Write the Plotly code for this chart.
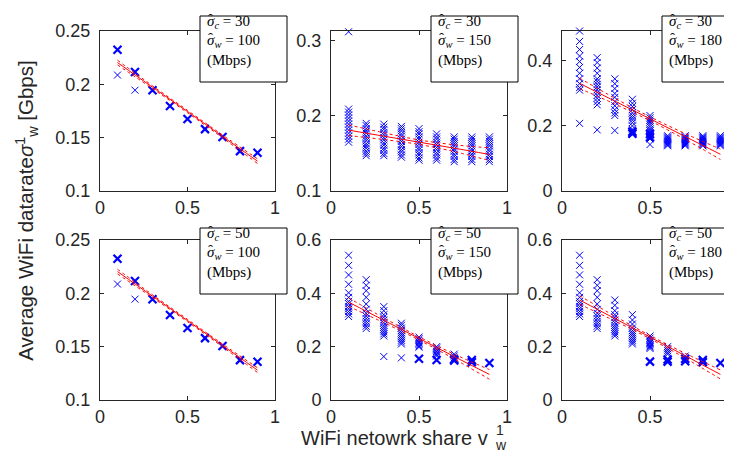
import plotly.graph_objects as go

W, H = 732, 451

# ---------------- data ----------------
X_SHARE = [0.1, 0.2, 0.3, 0.4, 0.5, 0.6, 0.7, 0.8, 0.9]
FIT_X = [0.1, 0.3, 0.5, 0.7, 0.9]

SIGMA_C = [30, 30, 30, 50, 50, 50]
SIGMA_W = [100, 150, 180, 100, 150, 180]

# panel 1 (sigma_c=30, sigma_w=100)
P1_THIN = [[0.2087], [0.1945], [], [], [], [], [], [], []]
P1_BOLD = [[0.2325], [0.2116], [0.1945], [0.1796], [0.1675], [0.158], [0.1507], [0.1374], [0.1358]]
P1_FIT = [0.2204, 0.1973, 0.1745, 0.1512, 0.1280]
P1_UP = [0.2226, 0.1986, 0.1756, 0.1525, 0.1302]
P1_LO = [0.2182, 0.1960, 0.1734, 0.1499, 0.1258]

# panel 2 (sigma_c=30, sigma_w=150)
P2_THIN = [
    [0.165, 0.169, 0.173, 0.177, 0.181, 0.185, 0.189, 0.193, 0.197, 0.201, 0.205, 0.209, 0.312],
    [0.147, 0.150, 0.153, 0.157, 0.160, 0.163, 0.167, 0.170, 0.173, 0.177, 0.180, 0.183, 0.187, 0.190],
    [0.147, 0.150, 0.154, 0.157, 0.161, 0.164, 0.168, 0.171, 0.175, 0.178, 0.182, 0.185, 0.189],
    [0.145, 0.148, 0.152, 0.155, 0.159, 0.162, 0.166, 0.169, 0.173, 0.176, 0.180, 0.183, 0.186],
    [0.141, 0.144, 0.148, 0.151, 0.155, 0.158, 0.162, 0.165, 0.169, 0.172, 0.176, 0.179, 0.183],
    [0.141, 0.144, 0.148, 0.151, 0.155, 0.158, 0.162, 0.165, 0.169, 0.172, 0.176],
    [0.139, 0.142, 0.146, 0.149, 0.153, 0.156, 0.160, 0.163, 0.166, 0.169, 0.172],
    [0.139, 0.142, 0.146, 0.149, 0.153, 0.156, 0.160, 0.163, 0.166, 0.169, 0.172],
    [0.139, 0.142, 0.146, 0.149, 0.153, 0.156, 0.160, 0.163, 0.166, 0.169, 0.172],
]
P2_BOLD = [[], [], [], [], [], [], [], [], []]
P2_FIT = [0.181, 0.173, 0.165, 0.157, 0.1487]
P2_UP = [0.1880, 0.1775, 0.1680, 0.1615, 0.1575]
P2_LO = [0.1738, 0.1685, 0.1620, 0.1525, 0.1405]

# panel 3 (sigma_c=30, sigma_w=180)
P3_THIN = [
    [0.208, 0.310, 0.318, 0.330, 0.345, 0.362, 0.380, 0.398, 0.415, 0.435, 0.460, 0.492],
    [0.188, 0.265, 0.275, 0.285, 0.294, 0.303, 0.311, 0.320, 0.328, 0.337, 0.345, 0.362, 0.378, 0.395, 0.410],
    [0.186, 0.232, 0.240, 0.250, 0.262, 0.275, 0.288, 0.300, 0.315, 0.330, 0.345],
    [0.174, 0.178, 0.182, 0.185, 0.190, 0.200, 0.210, 0.218, 0.225, 0.232, 0.240, 0.250, 0.260, 0.270, 0.282],
    [0.143, 0.160, 0.165, 0.170, 0.175, 0.180, 0.185, 0.190, 0.198, 0.205, 0.212, 0.218, 0.225, 0.232],
    [0.139, 0.142, 0.145, 0.148, 0.151, 0.154, 0.157, 0.160, 0.163, 0.166, 0.170],
    [0.139, 0.142, 0.145, 0.148, 0.151, 0.154, 0.157, 0.160, 0.163, 0.166, 0.170],
    [0.139, 0.142, 0.145, 0.148, 0.151, 0.154, 0.157, 0.160, 0.163, 0.166, 0.170],
    [0.139, 0.142, 0.145, 0.148, 0.151, 0.154, 0.157, 0.160, 0.163, 0.166, 0.170],
]
P3_BOLD = [[], [], [], [0.176, 0.182], [0.165, 0.175], [], [], [], []]
P3_FIT = [0.331, 0.2765, 0.222, 0.1675, 0.113]
P3_UP = [0.347, 0.2855, 0.228, 0.1765, 0.129]
P3_LO = [0.315, 0.2675, 0.216, 0.1585, 0.097]

# panel 4 (sigma_c=50, sigma_w=100)
P4_THIN = [[0.2087], [0.1945], [], [], [], [], [], [], []]
P4_BOLD = [[0.2325], [0.2116], [0.1945], [0.1796], [0.1675], [0.158], [0.1507], [0.1374], [0.1358]]
P4_FIT = [0.2204, 0.1973, 0.1745, 0.1512, 0.1280]
P4_UP = [0.2226, 0.1986, 0.1756, 0.1525, 0.1302]
P4_LO = [0.2182, 0.1960, 0.1734, 0.1499, 0.1258]

# panel 5 (sigma_c=50, sigma_w=150)
P5_THIN = [
    [0.313, 0.323, 0.332, 0.342, 0.351, 0.361, 0.370, 0.385, 0.402, 0.434, 0.469, 0.505, 0.543],
    [0.268, 0.277, 0.286, 0.295, 0.305, 0.315, 0.325, 0.340, 0.360, 0.385, 0.410, 0.430, 0.451],
    [0.163, 0.240, 0.248, 0.256, 0.264, 0.272, 0.280, 0.290, 0.300, 0.310, 0.320, 0.335, 0.350],
    [0.158, 0.210, 0.217, 0.224, 0.231, 0.238, 0.245, 0.252, 0.260, 0.270, 0.280, 0.288],
    [0.198, 0.203, 0.208, 0.213, 0.218, 0.224, 0.230, 0.236],
    [0.165, 0.170, 0.176, 0.182, 0.188, 0.195, 0.200],
    [0.158, 0.165, 0.172],
    [],
    [],
]
P5_BOLD = [[], [], [], [], [0.155], [0.150], [0.148, 0.152], [0.142, 0.150], [0.139]]
P5_FIT = [0.367, 0.299, 0.231, 0.163, 0.096]
P5_UP = [0.383, 0.308, 0.237, 0.172, 0.114]
P5_LO = [0.351, 0.290, 0.225, 0.154, 0.078]

# panel 6 (sigma_c=50, sigma_w=180)
P6_THIN = [
    [0.313, 0.323, 0.332, 0.342, 0.351, 0.361, 0.370, 0.385, 0.402, 0.434, 0.469, 0.505, 0.543],
    [0.268, 0.277, 0.286, 0.295, 0.305, 0.315, 0.325, 0.340, 0.360, 0.385, 0.410, 0.430, 0.451],
    [0.240, 0.248, 0.256, 0.264, 0.272, 0.280, 0.290, 0.300, 0.310, 0.320, 0.335, 0.355, 0.375],
    [0.210, 0.217, 0.224, 0.231, 0.238, 0.245, 0.252, 0.260, 0.270, 0.285, 0.300, 0.320],
    [0.193, 0.198, 0.203, 0.208, 0.213, 0.218, 0.224, 0.232, 0.240],
    [0.172, 0.178, 0.185, 0.192, 0.200],
    [0.165],
    [],
    [],
]
P6_BOLD = [[], [], [], [], [0.144], [0.144, 0.152], [0.145, 0.155], [0.142, 0.150], [0.139]]
P6_FIT = [0.375, 0.3055, 0.236, 0.166, 0.096]
P6_UP = [0.391, 0.3145, 0.242, 0.175, 0.113]
P6_LO = [0.359, 0.2965, 0.230, 0.157, 0.079]

Y_RANGES = [[0.1, 0.25], [0.1, 0.313], [0, 0.492], [0.1, 0.25], [0, 0.6], [0, 0.6]]
Y_TICKS = [[0.1, 0.15, 0.2, 0.25], [0.1, 0.2, 0.3], [0, 0.2, 0.4],
           [0.1, 0.15, 0.2, 0.25], [0, 0.2, 0.4, 0.6], [0, 0.2, 0.4, 0.6]]
Y_TICKTEXT = [["0.1", "0.15", "0.2", "0.25"], ["0.1", "0.2", "0.3"], ["0", "0.2", "0.4"],
              ["0.1", "0.15", "0.2", "0.25"], ["0", "0.2", "0.4", "0.6"], ["0", "0.2", "0.4", "0.6"]]
X_TICKS = [0, 0.5, 1]
X_TICKTEXT = ["0", "0.5", "1"]

PANELS = [
    (P1_THIN, P1_BOLD, P1_FIT, P1_UP, P1_LO),
    (P2_THIN, P2_BOLD, P2_FIT, P2_UP, P2_LO),
    (P3_THIN, P3_BOLD, P3_FIT, P3_UP, P3_LO),
    (P4_THIN, P4_BOLD, P4_FIT, P4_UP, P4_LO),
    (P5_THIN, P5_BOLD, P5_FIT, P5_UP, P5_LO),
    (P6_THIN, P6_BOLD, P6_FIT, P6_UP, P6_LO),
]

# ---------------- layout helpers ----------------
COL_PX = [(92, 267), (323, 499), (554, 730)]
ROW_PX = [(23, 183), (232, 392)]


def px(xp):
    return xp / W


def py(yp):
    return 1 - yp / H


AX_COLOR = "#262626"
BLUE = "#0000ff"
RED = "#ff0000"
SANS = "Liberation Sans, Arial, Helvetica, sans-serif"
SERIF = "Liberation Serif, Times New Roman, serif"
TICK_SIZE = 18
BOX_FONT = 15

fig = go.Figure()
layout = dict(
    template="none",
    width=W, height=H,
    margin=dict(l=0, r=0, t=0, b=0, pad=0, autoexpand=False),
    paper_bgcolor="white", plot_bgcolor="white",
    showlegend=False,
    font=dict(family=SANS, size=TICK_SIZE, color=AX_COLOR),
)
shapes = []
annotations = []


def flatten(cols):
    xs, ys = [], []
    for xv, col in zip(X_SHARE, cols):
        for yv in col:
            xs.append(xv)
            ys.append(yv)
    return xs, ys


def ann(text, x, y, size, family=SANS, color=AX_COLOR, xanchor="center",
        yanchor="middle", angle=0):
    # plotly draws text ~0.38em below the centre of its box: compensate
    if angle == 0:
        y = y - 0.38 * size
    else:
        x = x - 0.38 * size
    annotations.append(dict(
        text=text, xref="paper", yref="paper", x=px(x), y=py(y),
        xanchor=xanchor, yanchor=yanchor, showarrow=False, textangle=angle,
        font=dict(family=family, size=size, color=color),
    ))


for i, (thin, bold, fit, up, lo) in enumerate(PANELS):
    r, c = divmod(i, 3)
    n = "" if i == 0 else str(i + 1)
    xa, ya = "x" + n, "y" + n
    x0, x1 = COL_PX[c]
    y0, y1 = ROW_PX[r]
    common = dict(
        ticks="inside", ticklen=4, tickcolor=AX_COLOR, tickwidth=1,
        showline=True, linecolor=AX_COLOR, linewidth=1, mirror="ticks",
        showgrid=False, zeroline=False, automargin=False,
        tickfont=dict(family=SANS, size=TICK_SIZE, color=AX_COLOR),
    )
    layout["xaxis" + n] = dict(
        domain=[px(x0), px(x1)], anchor=ya, range=[0, 1],
        tickvals=X_TICKS, ticktext=X_TICKTEXT, **common,
    )
    layout["yaxis" + n] = dict(
        domain=[py(y1), py(y0)], anchor=xa, range=Y_RANGES[i],
        tickvals=Y_TICKS[i], ticktext=Y_TICKTEXT[i], ticklabelstandoff=5, **common,
    )

    tx, ty = flatten(thin)
    fig.add_trace(go.Scatter(
        x=tx, y=ty, mode="markers", xaxis=xa, yaxis=ya, cliponaxis=False,
        marker=dict(symbol="x-thin", size=7, color=BLUE, line=dict(color=BLUE, width=1)),
    ))
    bx, by = flatten(bold)
    if bx:
        fig.add_trace(go.Scatter(
            x=bx, y=by, mode="markers", xaxis=xa, yaxis=ya, cliponaxis=False,
            marker=dict(symbol="x-thin", size=8, color=BLUE, line=dict(color=BLUE, width=2.2)),
        ))
    fig.add_trace(go.Scatter(
        x=FIT_X, y=up, mode="lines", xaxis=xa, yaxis=ya,
        line=dict(color=RED, width=1, dash="dot", shape="spline"),
    ))
    fig.add_trace(go.Scatter(
        x=FIT_X, y=lo, mode="lines", xaxis=xa, yaxis=ya,
        line=dict(color=RED, width=1, dash="dot", shape="spline"),
    ))
    fig.add_trace(go.Scatter(
        x=FIT_X, y=fit, mode="lines", xaxis=xa, yaxis=ya,
        line=dict(color=RED, width=1, shape="spline"),
    ))

    # parameter box
    bx0 = x0 + 100
    by0 = (8, 220)[r]
    shapes.append(dict(
        type="rect", xref="paper", yref="paper",
        x0=px(bx0), x1=px(bx0 + 87), y0=py(by0), y1=py(by0 + 66),
        line=dict(color="black", width=1), fillcolor="white", layer="above",
    ))
    lines = [
        "<i>\u03c3</i><sub><i>c</i></sub> = %d" % SIGMA_C[i],
        "<i>\u03c3</i><sub><i>w</i></sub> = %d" % SIGMA_W[i],
        "(Mbps)",
    ]
    for k, t in enumerate(lines):
        ann(t, bx0 + 5, by0 + 12 + 19 * k, BOX_FONT, family=SERIF, color="black", xanchor="left")
    for k in range(2):
        ann("\u02c6", bx0 + 10.5, by0 + 9 + 19 * k, BOX_FONT, family=SERIF, color="black")

# y axis title
ann("Average WiFi datarate<i>\u03c3</i><sup>1</sup><sub>w</sub> [Gbps]", 26, 202.5, 20.5, angle=-90)

# x axis title (with stacked super/subscript)
ann("WiFi netowrk share v", 482, 438, 20, xanchor="right")
ann("1", 492, 427, 14)
ann("w", 493, 442.5, 14)

layout["shapes"] = shapes
layout["annotations"] = annotations
fig.update_layout(**layout)
fig.write_html("out.html")
